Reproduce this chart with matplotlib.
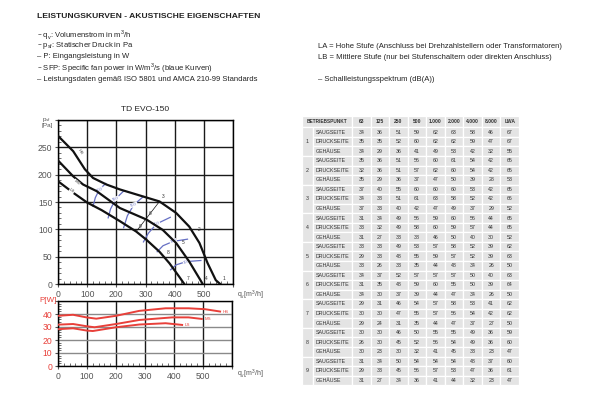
import matplotlib.pyplot as plt
from matplotlib.patches import Rectangle
from matplotlib.ticker import MultipleLocator

plt.rcParams['font.family'] = ['Liberation Sans', 'DejaVu Sans']

# Kennlinien psf [Pa] ueber qv [m3/h]
hs_q = [0, 52, 92, 120, 166, 212, 280, 348, 405, 450, 485, 513, 541, 556]
hs_p = [271, 243, 210, 194, 182, 173, 162, 151, 130, 105, 75, 38, 7, 0]
ms_q = [0, 52, 86, 132, 212, 303, 359, 405, 450, 485, 496]
ms_p = [226, 197, 182, 170, 139, 118, 99, 75, 41, 10, 0]
ls_q = [0, 52, 100, 150, 212, 268, 303, 348, 382, 416, 433]
ls_p = [188, 167, 149, 135, 115, 96, 81, 59, 38, 13, 0]

# SFP Kurven (blau)
sfp_labels = ['600', '550', '500', '400', '350', '300']
sfp_q = [[120, 128, 142, 164], [172, 180, 198, 225], [225, 238, 260, 293],
         [293, 310, 338, 385], [340, 360, 395, 444], [386, 405, 440, 490]]
sfp_p = [[142, 158, 173, 184], [121, 137, 156, 170], [103, 125, 145, 160],
         [77, 93, 110, 122], [59, 70, 78, 82], [26, 35, 41, 43]]

# Betriebspunkte
bp_nr = ['1', '2', '3', '4', '5', '6', '7', '8', '9']
bp_q = [556, 473, 348, 496, 416, 303, 433, 365, 268]
bp_p = [0, 90, 151, 0, 67, 120, 0, 48, 96]

# Leistungsaufnahme P [W]
hs_pq = [0, 52, 98, 132, 200, 280, 371, 450, 507, 559]
hs_w = [38.6, 39.4, 37.4, 36.4, 38.6, 42.4, 44.4, 44.4, 43.7, 41.9]
ms_pq = [0, 52, 98, 126, 200, 280, 394, 450, 496]
ms_w = [31.8, 32.3, 30.6, 29.8, 32.3, 35.4, 37.4, 37.4, 36.2]
ls_pq = [0, 52, 98, 120, 200, 280, 371, 428]
ls_w = [28.3, 29.0, 27.3, 26.9, 29.8, 31.9, 32.9, 31.6]

# Schallleistungsspektrum dB(A)
bands = ['63', '125', '250', '500', '1.000', '2.000', '4.000', '8.000', 'LWA']
seiten = ['SAUGSEITE', 'DRUCKSEITE', 'GEHÄUSE']
punkt_1 = [[34, 36, 51, 59, 62, 63, 58, 46, 67], [35, 35, 52, 60, 62, 62, 59, 47, 67], [34, 29, 36, 41, 49, 53, 42, 32, 55]]
punkt_2 = [[35, 36, 51, 56, 60, 61, 54, 42, 65], [32, 36, 51, 57, 62, 60, 54, 42, 65], [35, 29, 36, 37, 47, 50, 39, 28, 53]]
punkt_3 = [[37, 40, 55, 60, 60, 60, 53, 42, 65], [34, 38, 51, 61, 63, 58, 52, 42, 66], [37, 33, 40, 42, 47, 49, 37, 29, 52]]
punkt_4 = [[31, 34, 49, 56, 59, 60, 56, 44, 65], [33, 32, 49, 58, 60, 59, 57, 44, 65], [31, 27, 33, 38, 46, 50, 40, 30, 52]]
punkt_5 = [[33, 33, 49, 53, 57, 58, 52, 39, 62], [29, 33, 48, 55, 59, 57, 52, 39, 63], [33, 26, 33, 35, 44, 48, 34, 26, 50]]
punkt_6 = [[34, 37, 52, 57, 57, 57, 50, 40, 63], [31, 35, 48, 59, 60, 55, 50, 39, 64], [34, 30, 37, 39, 44, 47, 34, 26, 50]]
punkt_7 = [[29, 31, 46, 54, 57, 58, 53, 41, 62], [30, 30, 47, 55, 57, 56, 54, 42, 62], [29, 24, 31, 35, 44, 47, 37, 27, 50]]
punkt_8 = [[30, 30, 46, 50, 55, 55, 49, 36, 59], [26, 30, 45, 52, 56, 54, 49, 36, 60], [30, 23, 30, 32, 41, 45, 33, 23, 47]]
punkt_9 = [[31, 34, 50, 54, 54, 54, 48, 37, 60], [29, 33, 45, 56, 57, 53, 47, 36, 61], [31, 27, 34, 36, 41, 44, 32, 23, 47]]
punkte = [punkt_1, punkt_2, punkt_3, punkt_4, punkt_5, punkt_6, punkt_7, punkt_8, punkt_9]

W, H = 600, 394
fig = plt.figure(figsize=(6, 3.94), dpi=100)

bg = fig.add_axes([0, 0, 1, 1])
bg.set_xlim(0, W)
bg.set_ylim(H, 0)
bg.axis('off')


def px_axes(l, t, r, b):
    return fig.add_axes([l / W, 1 - b / H, (r - l) / W, (b - t) / H])


txt = '#222222'
grau = '#555555'
blau = '#6670c4'
rot = '#e8403a'

# Kopf
bg.text(37, 16, 'LEISTUNGSKURVEN - AKUSTISCHE EIGENSCHAFTEN', fontsize=6.1,
        fontweight='bold', color=txt, va='center')
zeilen = ['– q$_\\mathregular{v}$: Volumenstrom in m$^\\mathregular{3}$/h',
          '– p$_\\mathregular{sf}$: Statischer Druck in Pa',
          '– P: Eingangsleistung in W',
          '– SFP: Specific fan power in W/m$^\\mathregular{3}$/s (blaue Kurven)',
          '– Leistungsdaten gemäß ISO 5801 und AMCA 210-99 Standards']
for i, z in enumerate(zeilen):
    bg.text(37, 34.5 + i * 11.2, z, fontsize=5.5, color=txt, va='center')
bg.text(318, 46, 'LA = Hohe Stufe (Anschluss bei Drehzahlstellern oder Transformatoren)',
        fontsize=5.5, color=txt, va='center')
bg.text(318, 57, 'LB = Mittlere Stufe (nur bei Stufenschaltern oder direkten Anschluss)',
        fontsize=5.5, color=txt, va='center')
bg.text(318, 79, '– Schallleistungsspektrum (dB(A))', fontsize=5.5, color=txt, va='center')

# Druckdiagramm
ax = px_axes(58, 120, 233, 284)
ax.set_xlim(0, 600)
ax.set_ylim(0, 300)
ax.set_xticks(range(0, 601, 100))
ax.set_xticklabels(['0', '100', '200', '300', '400', '500', ''])
ax.set_yticks(range(0, 301, 50))
ax.set_yticklabels(['0', '50', '100', '150', '200', '250', ''])
ax.yaxis.set_minor_locator(MultipleLocator(10))
ax.xaxis.set_minor_locator(MultipleLocator(20))
ax.tick_params(which='major', length=2.5, width=0.8, labelsize=6.2, colors=grau, pad=1.5)
ax.tick_params(which='minor', direction='in', length=2, width=0.5, colors='#333333')
ax.grid(True, color='#1a1a1a', lw=1.0)
for s in ax.spines.values():
    s.set_linewidth(1.0)
ax.set_axisbelow(True)

for q, p in zip([hs_q, ms_q, ls_q], [hs_p, ms_p, ls_p]):
    ax.plot(q, p, color='#111111', lw=1.6, solid_capstyle='round', zorder=4)
for q, p, lab in zip(sfp_q, sfp_p, sfp_labels):
    ax.plot(q, p, color=blau, lw=0.9, zorder=3)
    ax.text(q[-2], p[-2], lab, color=blau, fontsize=3, ha='center', va='center', rotation=20,
            bbox=dict(fc='white', ec='none', pad=0.2), zorder=3)
ax.plot([bp_q[2], bp_q[8]], [bp_p[2], bp_p[8]], color='#111111', lw=0.5, zorder=3)
for n, q, p in zip(bp_nr, bp_q, bp_p):
    ax.text(q + 8, p + 5, n, fontsize=3.5, color='#333333', ha='left', va='bottom', zorder=5)
ax.text(75, 241, 'HS', fontsize=3.2, color='#444444', rotation=-55, ha='center', va='center',
        bbox=dict(fc='white', ec='none', pad=0.1), zorder=5)
ax.text(64, 186, 'MS', fontsize=3.2, color='#444444', rotation=-40, ha='center', va='center',
        bbox=dict(fc='white', ec='none', pad=0.1), zorder=5)
ax.text(47, 170, 'LS', fontsize=3.2, color='#444444', rotation=-35, ha='center', va='center',
        bbox=dict(fc='white', ec='none', pad=0.1), zorder=5)
bg.text(145, 109, 'TD EVO-150', fontsize=6, color=txt, ha='center', va='center')
bg.text(42, 122, 'p$_\\mathregular{sf}$\n[Pa]', fontsize=4.6, color=grau, ha='left', va='center',
        linespacing=0.9)
bg.text(237, 295, 'q$_\\mathregular{v}$[m$^\\mathregular{3}$/h]', fontsize=5, color=grau,
        ha='left', va='center')

# Leistungsdiagramm
axp = px_axes(58, 301, 232, 366)
axp.set_xlim(0, 600)
axp.set_ylim(0, 50)
axp.set_xticks(range(0, 601, 100))
axp.set_xticklabels(['0', '100', '200', '300', '400', '500', ''])
axp.set_yticks(range(0, 51, 10))
axp.set_yticklabels(['0', '10', '20', '30', '40', ''])
axp.yaxis.set_minor_locator(MultipleLocator(2))
axp.xaxis.set_minor_locator(MultipleLocator(20))
axp.tick_params(which='major', length=2.5, width=0.8, labelsize=6.2, colors=grau, pad=1.5)
axp.tick_params(axis='y', which='major', labelcolor=rot)
axp.tick_params(which='minor', direction='in', length=2, width=0.5, colors='#333333')
axp.xaxis.grid(True, color='#1a1a1a', lw=1.0)
axp.yaxis.grid(True, color='#8a8a8a', lw=1.0)
axp.set_axisbelow(True)
for s in axp.spines.values():
    s.set_linewidth(1.0)
for q, w, lab in zip([hs_pq, ms_pq, ls_pq], [hs_w, ms_w, ls_w], ['HS', 'MS', 'LS']):
    axp.plot(q, w, color=rot, lw=1.4, zorder=4)
    axp.text(q[-1] + 8, w[-1], lab, color=rot, fontsize=3.2, ha='left', va='center')
bg.text(57, 300, 'P[W]', fontsize=5.8, color=rot, ha='right', va='center')
bg.text(237, 374, 'q$_\\mathregular{v}$[m$^\\mathregular{3}$/h]', fontsize=5, color=grau,
        ha='left', va='center')

# Tabelle
x0, x_nr, x_lab, x1 = 302, 313, 352, 519
cw = (x1 - x_lab) / len(bands)
y_top, y_head = 115.5, 127.3
rh = 9.55
zelle = '#e4e4e4'
tfs = 3.8


def cell(x, y, w, h, s, bold=False, ha='center', fs=tfs):
    bg.add_patch(Rectangle((x, y), w, h, fc=zelle, ec='white', lw=0.9))
    tx = x + w / 2 if ha == 'center' else x + 2.5
    bg.text(tx, y + h / 2, s, fontsize=fs, color='#333333', ha=ha, va='center',
            fontweight='bold' if bold else 'normal')


cell(x0, y_top, x_lab - x0, y_head - y_top, 'BETRIEBSPUNKT', bold=True, fs=3.4)
for j, b in enumerate(bands):
    cell(x_lab + j * cw, y_top, cw, y_head - y_top, b, bold=True, fs=3.6)
for i, punkt in enumerate(punkte):
    yg = y_head + i * 3 * rh
    cell(x0, yg, x_nr - x0, 3 * rh, bp_nr[i])
    for k, werte in enumerate(punkt):
        y = yg + k * rh
        cell(x_nr, y, x_lab - x_nr, rh, seiten[k], ha='left')
        for j, v in enumerate(werte):
            cell(x_lab + j * cw, y, cw, rh, str(v))

fig.savefig('out.png', dpi=100)
